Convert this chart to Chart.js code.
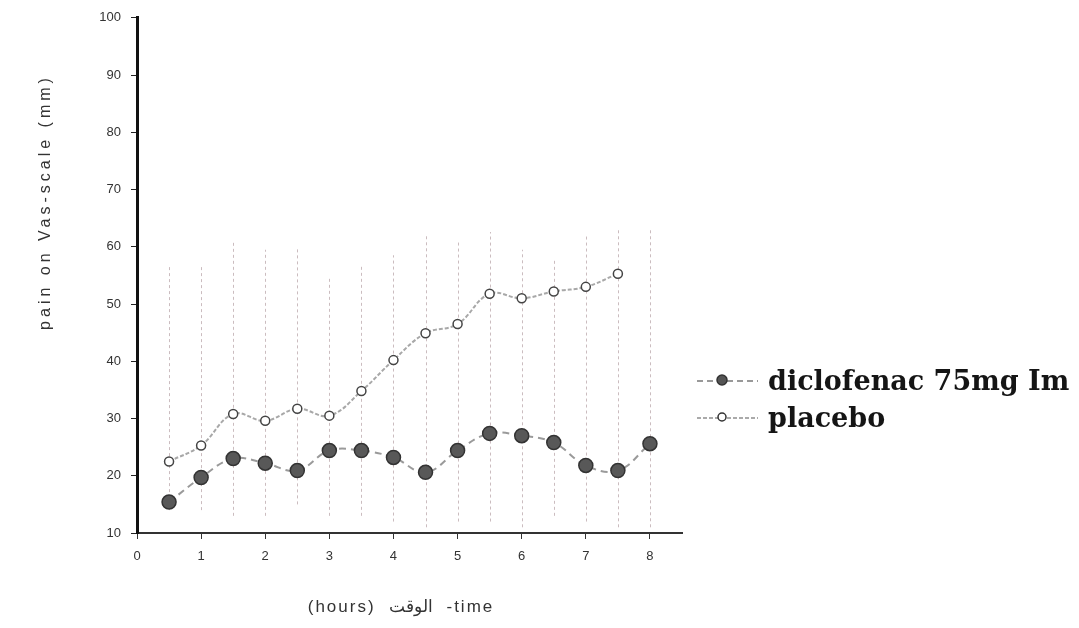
<!DOCTYPE html>
<html>
<head>
<meta charset="utf-8">
<script src="https://cdn.jsdelivr.net/npm/chart.js@4.4.1/dist/chart.umd.min.js"></script>
<style>
  body { margin: 0; background: #fff; }
  canvas { display: block; }
</style>
</head>
<body>
<canvas id="pain-chart" width="1079" height="628"></canvas>
<script>
// time points (hours)
const hours = [0.5, 1, 1.5, 2, 2.5, 3, 3.5, 4, 4.5, 5, 5.5, 6, 6.5, 7, 7.5, 8];
const diclofenac = [15.4, 19.7, 23.0, 22.2, 20.9, 24.4, 24.4, 23.2, 20.6, 24.4, 27.4, 27.0, 25.8, 21.8, 20.9, 25.6];
const placebo = [22.5, 25.3, 30.8, 29.6, 31.7, 30.5, 34.8, 40.2, 44.9, 46.5, 51.8, 51.0, 52.2, 53.0, 55.3];
// spread bars (low / high ends) at each time point
const errLow = [14, 14, 13, 13, 15, 13, 13, 12, 11, 12, 12, 11, 13, 12, 11, 11];
const errHigh = [57, 56.5, 61, 59.5, 59.7, 54.5, 57, 58.5, 62, 61, 62.6, 59.5, 58, 62.3, 63, 63];
const xTicks = [0, 1, 2, 3, 4, 5, 6, 7, 8];
const seriesNames = ['diclofenac 75mg Im', 'placebo'];
const xTitle = '(hours)  الوقت  -time';
const yTitle = 'pain on Vas-scale (mm)';

function pts(vals) {
  return vals.map((v, i) => ({ x: hours[i], y: v }));
}

// faint vertical bars behind the lines
const errorBars = {
  id: 'errorBars',
  beforeDatasetsDraw(chart) {
    const { ctx, scales: { x, y } } = chart;
    ctx.save();
    ctx.strokeStyle = 'rgba(185,165,170,0.75)';
    ctx.lineWidth = 1;
    ctx.setLineDash([3, 3]);
    hours.forEach((h, i) => {
      const px = Math.round(x.getPixelForValue(h)) + 0.5;
      ctx.beginPath();
      ctx.moveTo(px, y.getPixelForValue(errLow[i]));
      ctx.lineTo(px, y.getPixelForValue(errHigh[i]));
      ctx.stroke();
    });
    ctx.restore();
  }
};

// axis titles + legend drawn at fixed spots
const labels = {
  id: 'labels',
  afterDraw(chart) {
    const ctx = chart.ctx;
    ctx.save();
    ctx.fillStyle = '#333';
    ctx.textAlign = 'center';
    ctx.textBaseline = 'middle';
    ctx.font = '17px "Liberation Sans", Arial, sans-serif';
    ctx.letterSpacing = '2px';
    ctx.fillText(xTitle, 401, 607);

    ctx.translate(46, 202);
    ctx.rotate(-Math.PI / 2);
    ctx.font = '16px "Liberation Sans", Arial, sans-serif';
    ctx.letterSpacing = '4px';
    ctx.fillText(yTitle, 0, 0);
    ctx.restore();

    // legend
    ctx.save();
    ctx.letterSpacing = '0px';
    const rows = [390, 427];
    ctx.font = 'bold 27px "DejaVu Serif", serif';
    ctx.textAlign = 'left';
    ctx.textBaseline = 'alphabetic';
    seriesNames.forEach((name, i) => {
      const ly = rows[i] - 9;
      ctx.strokeStyle = i === 0 ? '#999' : '#aaa';
      ctx.lineWidth = 2;
      ctx.setLineDash(i === 0 ? [6, 4] : [4, 2]);
      ctx.beginPath();
      ctx.moveTo(697, ly);
      ctx.lineTo(758, ly);
      ctx.stroke();
      ctx.setLineDash([]);
      ctx.beginPath();
      ctx.arc(722, ly - 1, i === 0 ? 5 : 4, 0, Math.PI * 2);
      ctx.fillStyle = i === 0 ? '#555' : '#fff';
      ctx.fill();
      ctx.strokeStyle = '#333';
      ctx.lineWidth = 1.5;
      ctx.stroke();
      ctx.fillStyle = '#151515';
      ctx.fillText(name, 768, rows[i]);
    });
    ctx.restore();
  }
};

new Chart(document.getElementById('pain-chart').getContext('2d'), {
  type: 'line',
  data: {
    datasets: [{
      label: seriesNames[0],
      data: pts(diclofenac),
      borderColor: '#9a9a9a',
      borderWidth: 2,
      borderDash: [7, 5],
      tension: 0.4,
      pointRadius: 7,
      pointBackgroundColor: '#585858',
      pointBorderColor: '#333',
      pointBorderWidth: 1.5
    }, {
      label: seriesNames[1],
      data: pts(placebo),
      borderColor: '#a8a8a8',
      borderWidth: 2,
      borderDash: [4, 2],
      tension: 0.4,
      pointRadius: 4.5,
      pointBackgroundColor: '#fff',
      pointBorderColor: '#444',
      pointBorderWidth: 1.5
    }]
  },
  options: {
    responsive: false,
    animation: false,
    layout: { padding: { top: 17, right: 397, left: 0, bottom: 0 } },
    plugins: {
      legend: { display: false },
      tooltip: { enabled: false }
    },
    scales: {
      x: {
        type: 'linear',
        min: 0,
        max: 8.5,
        afterBuildTicks: s => { s.ticks = xTicks.map(v => ({ value: v })); },
        afterFit: s => { s.height = 95; },
        grid: { drawOnChartArea: false, tickLength: 6, color: '#333' },
        border: { color: '#333', width: 2 },
        ticks: {
          padding: 10,
          color: '#333',
          font: { size: 13, family: '"Liberation Sans", Arial, sans-serif' }
        }
      },
      y: {
        min: 10,
        max: 100,
        ticks: {
          stepSize: 10,
          padding: 10,
          color: '#333',
          font: { size: 13, family: '"Liberation Sans", Arial, sans-serif' }
        },
        afterFit: s => { s.width = 137; },
        grid: { drawOnChartArea: false, tickLength: 6, color: '#222' },
        border: { color: '#111', width: 3 }
      }
    }
  },
  plugins: [errorBars, labels]
});
</script>
</body>
</html>
